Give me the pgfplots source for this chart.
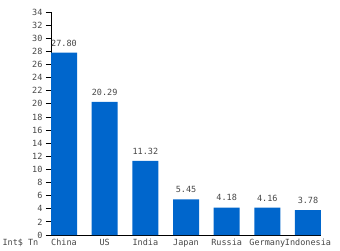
\documentclass[border=0pt]{standalone}
\usepackage{pgfplots}
\pgfplotsset{compat=1.18}
\usepackage{fontspec}
\setmainfont{DejaVu Sans Mono}
\definecolor{barblue}{RGB}{0,102,204}
\definecolor{txtgray}{RGB}{70,70,70}
\begin{document}
\begin{tikzpicture}
\useasboundingbox (0pt,0pt) rectangle (340pt,250pt);
\begin{axis}[
    at={(51pt,15pt)}, anchor=south west,
    scale only axis,
    width=270pt, height=223pt,
    xmin=-0.32, xmax=6.32,
    ymin=0, ymax=34,
    ytick={0,2,...,34},
    xtick={0,...,6},
    xticklabels={China,US,India,Japan,Russia,Germany,Indonesia},
    axis x line*=bottom,
    axis y line*=left,
    tick align=outside,
    major tick length=5pt,
    x tick style={draw=none},
    axis line style={black, line width=0.8pt},
    y tick style={black, line width=0.8pt},
    /pgf/number format/assume math mode=true,
    tick label style={font=\fontsize{8.5}{10}\selectfont, text=txtgray},
    xticklabel style={yshift=4pt},
    ybar, bar width=26pt,
    nodes near coords,
    nodes near coords style={font=\fontsize{8.5}{10}\selectfont, text=txtgray, yshift=3pt,
        /pgf/number format/fixed, /pgf/number format/fixed zerofill,
        /pgf/number format/precision=2},
]
\addplot[fill=barblue, draw=none] coordinates {
    (0,27.80) (1,20.29) (2,11.32) (3,5.45) (4,4.18) (5,4.16) (6,3.78)
};
\end{axis}
\node[anchor=west, font=\fontsize{8.5}{10}\selectfont, text=txtgray] at (-1pt,7pt) {Int\$ Tn};
\end{tikzpicture}
\end{document}
